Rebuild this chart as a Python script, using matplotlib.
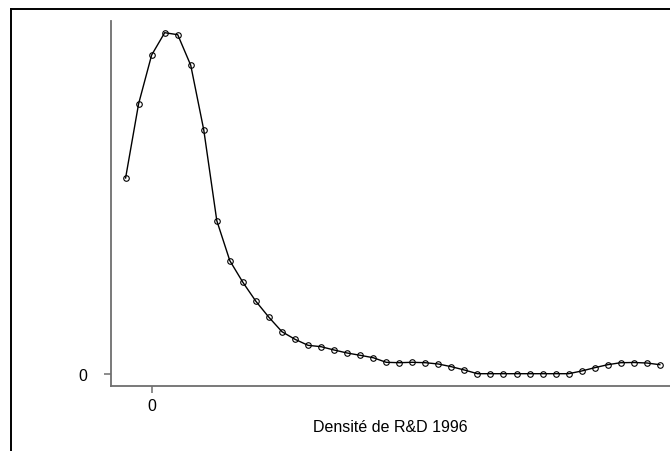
import matplotlib
matplotlib.use("Agg")
import matplotlib.pyplot as plt
from matplotlib.lines import Line2D

# Kernel density estimate grid points (arbitrary units) and density values
x_grid = [-2, -1, 0, 1, 2, 3, 4, 5, 6, 7, 8, 9, 10, 11, 12, 13, 14, 15, 16, 17, 18,
          19, 20, 21, 22, 23, 24, 25, 26, 27, 28, 29, 30, 31, 32, 33, 34, 35, 36, 37, 38, 39]
density = [0.1957, 0.2700, 0.3187, 0.3410, 0.3390, 0.3084, 0.2437, 0.1530, 0.1130,
           0.0914, 0.0724, 0.0564, 0.0420, 0.0344, 0.0284, 0.0270, 0.0237, 0.0207,
           0.0184, 0.0160, 0.0114, 0.0110, 0.0114, 0.0110, 0.0097, 0.0070, 0.0037,
           0.0000, 0.0000, 0.0000, 0.0000, 0.0000, 0.0000, 0.0000, 0.0000, 0.0027,
           0.0060, 0.0090, 0.0110, 0.0112, 0.0107, 0.0090]
x_ticks = [0]
y_ticks = [0]
x_label = "Densité de R&D 1996"

plt.rcParams['font.family'] = ['Liberation Sans', 'DejaVu Sans']

W, H = 670, 452
fig = plt.figure(figsize=(W / 100, H / 100), dpi=100)
ax = fig.add_axes([111 / W, (H - 387) / H, (W - 111) / W, (387 - 22) / H])

ax.plot(x_grid, density, color='black', lw=1.0, marker='o', markersize=4.0,
        markerfacecolor='none', markeredgecolor='black', markeredgewidth=0.8)

ax.set_xlim(-3.12, 39.78)
ax.set_ylim(-0.0123, 0.3527)
ax.set_xticks(x_ticks)
ax.set_yticks(y_ticks)
ax.set_xticklabels([str(t) for t in x_ticks])
ax.set_yticklabels([str(t) for t in y_ticks])

for side in ['top', 'right']:
    ax.spines[side].set_visible(False)
for side in ['left', 'bottom']:
    ax.spines[side].set_color('#6e6e6e')
    ax.spines[side].set_linewidth(1.3)

ax.tick_params(axis='both', color='#6e6e6e', width=1.1, length=5, labelsize=11.5,
               labelcolor='black')
ax.tick_params(axis='y', pad=12)
ax.tick_params(axis='x', pad=4)

ax.set_xlabel(x_label, fontsize=11.5, labelpad=4)

# outer frame (partially cropped)
fig.add_artist(Line2D([11 / W, 11 / W], [0, 1 - 10 / H], transform=fig.transFigure,
                      color='black', lw=1.4))
fig.add_artist(Line2D([11 / W, 1], [1 - 10 / H, 1 - 10 / H], transform=fig.transFigure,
                      color='black', lw=1.4))

fig.savefig("out.png", dpi=100)
